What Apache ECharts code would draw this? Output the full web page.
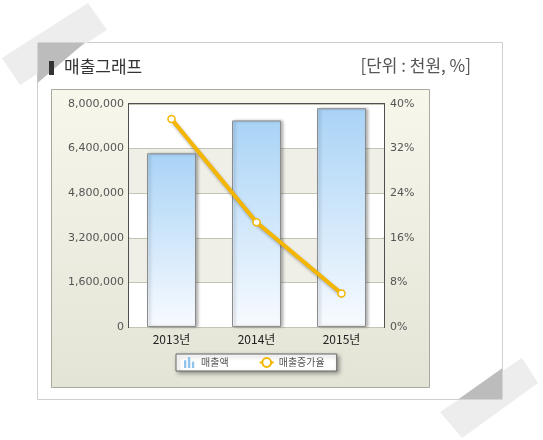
<!DOCTYPE html>
<html>
<head>
<meta charset="UTF-8">
<title>매출그래프</title>
<script src="https://cdn.jsdelivr.net/npm/echarts@6/dist/echarts.min.js"></script>
<style>
  html, body { margin: 0; padding: 0; background: #fff; }
  #main { width: 543px; height: 440px; }
</style>
</head>
<body>
<div id="main"></div>
<script type="text/javascript">
    // 데이터
    var years = ['2013년', '2014년', '2015년'];
    var sales = [6230000, 7410000, 7850000];   // 매출액 (천원)
    var growth = [37.3, 18.8, 6.0];            // 매출증가율 (%)
    var salesTicks = [0, 1600000, 3200000, 4800000, 6400000, 8000000];
    var growthTicks = [0, 8, 16, 24, 32, 40];

    var myChart = echarts.init(document.getElementById('main'));

    var korFont = '"Noto Sans CJK KR", sans-serif';
    var numFont = '"DejaVu Sans", Verdana, sans-serif';

    function fmt(v) {
        return String(v).replace(/\B(?=(\d{3})+(?!\d))/g, ',');
    }

    var option = {
        animation: false,
        backgroundColor: '#fff',
        graphic: [
            // 카드
            { type: 'rect', z: -20, shape: { x: 37.5, y: 42.5, width: 465, height: 357 },
              style: { fill: '#fff', stroke: '#cfcfcf', lineWidth: 1 } },
            // 차트 패널
            { type: 'rect', z: -10, shape: { x: 51.5, y: 89.5, width: 378, height: 298 },
              style: {
                  fill: new echarts.graphic.LinearGradient(0, 0, 0, 1, [
                      { offset: 0, color: '#f7f7ec' },
                      { offset: 1, color: '#e3e3d6' }
                  ]),
                  stroke: '#a9a9a0', lineWidth: 1
              } },
            // 테이프 (왼쪽 위)
            { type: 'polygon', z: 50, shape: { points: [[2, 58], [88, 3], [107, 30], [20, 85]] },
              style: { fill: '#ededed' } },
            { type: 'polygon', z: 51, shape: { points: [[37.5, 42.5], [85, 42.5], [37.5, 83]] },
              style: { fill: '#bcbcbc' } },
            // 테이프 (오른쪽 아래)
            { type: 'polygon', z: 50, shape: { points: [[440, 412], [522, 358], [538, 383], [462, 438]] },
              style: { fill: '#ededed' } },
            { type: 'polygon', z: 51, shape: { points: [[502.5, 368], [502.5, 399.5], [458, 399.5]] },
              style: { fill: '#bcbcbc' } },
            // 제목
            { type: 'rect', z: 60, shape: { x: 49, y: 61, width: 5, height: 14 }, style: { fill: '#333' } },
            { type: 'text', z: 60, left: 64, top: 58,
              style: { text: '매출그래프', font: '17px ' + korFont, fill: '#333' } },
            { type: 'text', z: 60, right: 72, top: 57,
              style: { text: '[단위 : 천원, %]', font: '17px ' + korFont, fill: '#555' } }
        ],
        grid: {
            left: 129, top: 104, right: 159, bottom: 113,
            show: true,
            backgroundColor: '#fff',
            borderColor: '#505050',
            borderWidth: 2
        },
        legend: {
            left: 176, top: 354,
            width: 150,
            itemGap: 30,
            padding: [3, 12, 3, 8],
            backgroundColor: '#fff',
            borderColor: '#666',
            borderWidth: 1,
            shadowBlur: 4,
            shadowOffsetX: 2,
            shadowOffsetY: 2,
            shadowColor: 'rgba(0,0,0,0.35)',
            itemWidth: 14,
            itemHeight: 11,
            textStyle: { fontSize: 10, color: '#555', fontFamily: korFont },
            data: [
                { name: '매출액', icon: 'path://M0,4H3V14H0Z M5,0H8V14H5Z M10,6H13V14H10Z',
                  itemStyle: { color: '#8fc3ea', borderWidth: 0, shadowBlur: 0 } },
                { name: '매출증가율' }
            ]
        },
        xAxis: {
            type: 'category',
            data: years,
            axisLine: { show: false },
            axisTick: { show: false },
            axisLabel: { color: '#222', fontSize: 12, fontFamily: korFont, margin: 6 }
        },
        yAxis: [
            {
                type: 'value',
                min: salesTicks[0],
                max: salesTicks[salesTicks.length - 1],
                interval: salesTicks[1] - salesTicks[0],
                axisLine: { show: false },
                axisTick: { show: false },
                axisLabel: { color: '#555', fontSize: 11, fontFamily: numFont, margin: 5,
                             formatter: function (v) { return fmt(v); } },
                splitLine: { lineStyle: { color: '#c4c4b4', width: 1 } },
                splitArea: { show: true, areaStyle: { color: ['#ffffff', '#efefe7'] } }
            },
            {
                type: 'value',
                min: growthTicks[0],
                max: growthTicks[growthTicks.length - 1],
                interval: growthTicks[1] - growthTicks[0],
                axisLine: { show: false },
                axisTick: { show: false },
                axisLabel: { color: '#555', fontSize: 11, fontFamily: numFont, margin: 6,
                             formatter: '{value}%' },
                splitLine: { show: false }
            }
        ],
        series: [
            {
                name: '매출액',
                type: 'bar',
                data: sales,
                barWidth: 49,
                itemStyle: {
                    color: new echarts.graphic.LinearGradient(0, 0, 0, 1, [
                        { offset: 0, color: '#a9d3f6' },
                        { offset: 1, color: '#f8fbff' }
                    ]),
                    borderColor: '#8c8c8c',
                    borderWidth: 1,
                    shadowBlur: 3,
                    shadowOffsetX: 2,
                    shadowColor: 'rgba(0,0,0,0.3)'
                }
            },
            {
                name: '매출증가율',
                type: 'line',
                yAxisIndex: 1,
                data: growth,
                symbol: 'circle',
                symbolSize: 7,
                lineStyle: {
                    color: '#f4b600', width: 4,
                    shadowBlur: 3, shadowOffsetX: 1, shadowOffsetY: 2, shadowColor: 'rgba(0,0,0,0.3)'
                },
                itemStyle: { color: '#fff', borderColor: '#f4b600', borderWidth: 1.5 },
                z: 5
            }
        ]
    };

    myChart.setOption(option);
</script>
</body>
</html>
